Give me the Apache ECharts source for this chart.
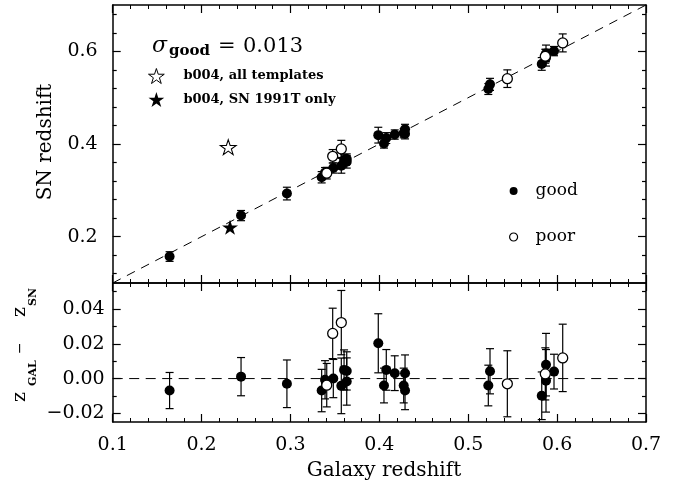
<!DOCTYPE html>
<html><head><meta charset="utf-8">
<script src="https://cdn.jsdelivr.net/npm/echarts@6/dist/echarts.min.js"></script>
<style>html,body{margin:0;padding:0;background:#fff}#c{width:686px;height:485px}</style>
</head><body><div id="c"></div>
<script>
// ---- data ----
const goodGalaxyZ = [0.1640, 0.2444, 0.2960, 0.3351, 0.3389, 0.3482, 0.3572, 0.3603, 0.3633, 0.3633, 0.3988, 0.4052, 0.4078, 0.4173, 0.4289, 0.4274, 0.4289, 0.5226, 0.5245, 0.5827, 0.5875, 0.5875, 0.5965];
const goodSnZ     = [0.1571, 0.2455, 0.2930, 0.3282, 0.3382, 0.3482, 0.3530, 0.3653, 0.3677, 0.3616, 0.4191, 0.4012, 0.4128, 0.4204, 0.4320, 0.4234, 0.4220, 0.5186, 0.5287, 0.5728, 0.5955, 0.5862, 0.6005];
const goodErr     = [0.0104, 0.0110, 0.0137, 0.0122, 0.0110, 0.0110, 0.0160, 0.0115, 0.0110, 0.0136, 0.0170, 0.0100, 0.0117, 0.0100, 0.0105, 0.0100, 0.0110, 0.0117, 0.0130, 0.0137, 0.0180, 0.0180, 0.0100];
const poorGalaxyZ = [0.3408, 0.3475, 0.3572, 0.5440, 0.5867, 0.6063];
const poorSnZ     = [0.3370, 0.3735, 0.3894, 0.5410, 0.5894, 0.6182];
const poorErr     = [0.0125, 0.0145, 0.0185, 0.0190, 0.0150, 0.0194];
const starAllGalaxyZ = [0.230];
const starAllSnZ     = [0.393];
const starT91GalaxyZ = [0.232];
const starT91SnZ     = [0.2203];
const identityLine = [0.1, 0.7];
const zeroLineX    = [0.1, 0.7];
const topMajorTicks = [0.2, 0.4, 0.6];
const topMinorTicks = [0.12, 0.16, 0.24, 0.28, 0.32, 0.36, 0.44, 0.48, 0.52, 0.56, 0.64, 0.68];
const botMajorTicks = [-0.02, 0, 0.02, 0.04];
const botMinorTicks = [-0.01, 0.01, 0.03, 0.05];
const sigmaValue = '0.013';

// ---- styling ----
const FONT = '"DejaVu Serif", serif';
const STAR = 'path://M50 0 L61.23 34.55 L97.55 34.55 L68.17 55.9 L79.39 90.45 L50 69.1 L20.61 90.45 L31.83 55.9 L2.45 34.55 L38.77 34.55 Z';
const BLACK = '#000';
const lineSt = {color: BLACK, width: 1.5};

function xAx(gridIndex, position, showLabel) {
  return {
    type: 'value', gridIndex, position, min: 0.1, max: 0.7, interval: 0.1,
    axisLine: {show: true, onZero: false, lineStyle: lineSt},
    axisTick: {show: true, inside: true, length: 8, lineStyle: {color: BLACK, width: 1.2}},
    minorTick: {show: true, splitNumber: 5, length: 4, lineStyle: {color: BLACK, width: 1}},
    splitLine: {show: false}, minorSplitLine: {show: false},
    axisLabel: {show: showLabel, margin: 14, color: BLACK, fontFamily: FONT, fontSize: 19,
      showMinLabel: true, showMaxLabel: true, formatter: v => v.toFixed(1)}
  };
}
function yAx(gridIndex, position, min, max, ticks, tickLen, label, showLine) {
  return {
    type: 'value', gridIndex, position, min, max,
    axisLine: {show: showLine, onZero: false, lineStyle: lineSt},
    axisTick: {show: true, inside: true, length: tickLen, customValues: ticks, lineStyle: {color: BLACK, width: 1.2}},
    splitLine: {show: false},
    axisLabel: label ? Object.assign({show: true, customValues: ticks, color: BLACK, fontFamily: FONT, fontSize: 19}, label) : {show: false}
  };
}
const fmtTop = v => v.toFixed(1);
const fmtBot = v => (v < -1e-9 ? '\u2212' : '') + Math.abs(v).toFixed(2);

function errData(gx, sz, er, resid) {
  return gx.map((x, i) => [x, resid ? sz[i] - x : sz[i], er[i]]);
}
function errSeries(data, xi, yi) {
  return {
    type: 'custom', xAxisIndex: xi, yAxisIndex: yi, z: 2, silent: true,
    encode: {x: 0, y: 1},
    data,
    renderItem(params, api) {
      const x = api.value(0), y = api.value(1), e = api.value(2);
      const t = api.coord([x, y + e]), b = api.coord([x, y - e]);
      const c = 4, st = {stroke: BLACK, lineWidth: 1.2};
      return {type: 'group', children: [
        {type: 'line', shape: {x1: t[0], y1: t[1], x2: b[0], y2: b[1]}, style: st},
        {type: 'line', shape: {x1: t[0] - c, y1: t[1], x2: t[0] + c, y2: t[1]}, style: st},
        {type: 'line', shape: {x1: b[0] - c, y1: b[1], x2: b[0] + c, y2: b[1]}, style: st}
      ]};
    }
  };
}
const goodStyle = {color: BLACK, opacity: 1};
const poorStyle = {color: '#fff', borderColor: BLACK, borderWidth: 1.3, opacity: 1};
const openStarStyle = {color: '#fff', borderColor: BLACK, borderWidth: 1, opacity: 1};
const fullStarStyle = {color: BLACK, borderWidth: 0, opacity: 1};
const MS = 10;

const option = {
  animation: false,
  backgroundColor: '#fff',
  grid: [
    {left: 112.7, right: 40, top: 5, height: 278, show: false, outerBoundsMode: 'none'},
    {left: 112.7, right: 40, top: 283, height: 139, show: false, outerBoundsMode: 'none'}
  ],
  xAxis: [xAx(0, 'bottom', false), xAx(0, 'top', false), xAx(1, 'bottom', true), xAx(1, 'top', false)],
  yAxis: [
    yAx(0, 'left', 0.1, 0.7, topMajorTicks, 8, {margin: 15, formatter: fmtTop}, true),
    yAx(0, 'left', 0.1, 0.7, topMinorTicks, 4, null, false),
    yAx(0, 'right', 0.1, 0.7, topMajorTicks, 8, null, true),
    yAx(0, 'right', 0.1, 0.7, topMinorTicks, 4, null, false),
    yAx(1, 'left', -0.025, 0.055, botMajorTicks, 8, {margin: 8, formatter: fmtBot}, true),
    yAx(1, 'left', -0.025, 0.055, botMinorTicks, 4, null, false),
    yAx(1, 'right', -0.025, 0.055, botMajorTicks, 8, null, true),
    yAx(1, 'right', -0.025, 0.055, botMinorTicks, 4, null, false)
  ],
  legend: [
    {left: 148, top: 68, padding: 0, orient: 'vertical', itemGap: 8, itemWidth: 16, itemHeight: 15, selectedMode: false,
      data: [{name: 'b004, all templates', icon: STAR, itemStyle: openStarStyle},
             {name: 'b004, SN 1991T only', icon: STAR, itemStyle: fullStarStyle}],
      textStyle: {fontFamily: FONT, fontSize: 13, fontWeight: 'bold', color: BLACK, padding: [0, 0, 0, 14]}},
    {left: 509, top: 181, padding: 0, orient: 'vertical', itemGap: 26, itemWidth: 8, itemHeight: 8, selectedMode: false,
      data: [{name: 'good', icon: 'circle', itemStyle: goodStyle}, {name: 'poor', icon: 'circle', itemStyle: {color: '#fff', borderColor: BLACK, borderWidth: 1.2}}],
      textStyle: {fontFamily: FONT, fontSize: 17, color: BLACK, lineHeight: 20, padding: [0, 0, 0, 13]}}
  ],
  graphic: [
    {type: 'text', x: 46, y: 142, rotation: Math.PI / 2,
      style: {text: 'SN redshift', font: '20px ' + FONT, fill: BLACK, textAlign: 'center', textVerticalAlign: 'middle'}},
    {type: 'group', x: 25, y: 402, rotation: Math.PI / 2, children: [
      {type: 'text', x: 0, y: -5.4, style: {text: 'z', font: '19px ' + FONT, fill: BLACK, textAlign: 'left', textVerticalAlign: 'middle'}},
      {type: 'text', x: 16, y: 8.2, style: {text: 'GAL', font: 'bold 11px ' + FONT, fill: BLACK, textAlign: 'left', textVerticalAlign: 'middle'}},
      {type: 'text', x: 48, y: -5, style: {text: '\u2212', font: '14px ' + FONT, fill: BLACK, textAlign: 'left', textVerticalAlign: 'middle'}},
      {type: 'text', x: 85, y: -5.4, style: {text: 'z', font: '19px ' + FONT, fill: BLACK, textAlign: 'left', textVerticalAlign: 'middle'}},
      {type: 'text', x: 96, y: 8.2, style: {text: 'SN', font: 'bold 11px ' + FONT, fill: BLACK, textAlign: 'left', textVerticalAlign: 'middle'}}
    ]},
    {type: 'text', x: 384, y: 471, style: {text: 'Galaxy redshift', font: '20px ' + FONT, fill: BLACK, textAlign: 'center', textVerticalAlign: 'middle'}},
    {type: 'text', x: 152, y: 46.5, style: {text: '\u03c3', font: 'italic 22px ' + FONT, fill: BLACK, textAlign: 'left', textVerticalAlign: 'middle'}},
    {type: 'text', x: 169, y: 51, style: {text: 'good', font: 'bold 15px ' + FONT, fill: BLACK, textAlign: 'left', textVerticalAlign: 'middle'}},
    {type: 'text', x: 218, y: 46.5, style: {text: '=', font: '21px ' + FONT, fill: BLACK, textAlign: 'left', textVerticalAlign: 'middle'}},
    {type: 'text', x: 243, y: 46.5, style: {text: sigmaValue, font: '21px ' + FONT, fill: BLACK, textAlign: 'left', textVerticalAlign: 'middle'}}
  ],
  series: [
    {type: 'line', xAxisIndex: 0, yAxisIndex: 0, symbol: 'none', silent: true, z: 1,
      data: [[identityLine[0], identityLine[0]], [identityLine[1], identityLine[1]]],
      lineStyle: {color: BLACK, width: 1, type: [9, 7]}},
    {type: 'line', xAxisIndex: 2, yAxisIndex: 4, symbol: 'none', silent: true, z: 1,
      data: [[zeroLineX[0], 0], [zeroLineX[1], 0]],
      lineStyle: {color: BLACK, width: 1, type: [10, 6.5]}},
    errSeries(errData(goodGalaxyZ, goodSnZ, goodErr, false), 0, 0),
    errSeries(errData(poorGalaxyZ, poorSnZ, poorErr, false), 0, 0),
    errSeries(errData(goodGalaxyZ, goodSnZ, goodErr, true), 2, 4),
    errSeries(errData(poorGalaxyZ, poorSnZ, poorErr, true), 2, 4),
    {name: 'good', type: 'scatter', xAxisIndex: 0, yAxisIndex: 0, z: 3, symbol: 'circle', symbolSize: MS, itemStyle: goodStyle,
      data: goodGalaxyZ.map((x, i) => [x, goodSnZ[i]])},
    {name: 'poor', type: 'scatter', xAxisIndex: 0, yAxisIndex: 0, z: 3, symbol: 'circle', symbolSize: MS, itemStyle: poorStyle,
      data: poorGalaxyZ.map((x, i) => [x, poorSnZ[i]])},
    {name: 'good', type: 'scatter', xAxisIndex: 2, yAxisIndex: 4, z: 3, symbol: 'circle', symbolSize: MS, itemStyle: goodStyle,
      data: goodGalaxyZ.map((x, i) => [x, goodSnZ[i] - x])},
    {name: 'poor', type: 'scatter', xAxisIndex: 2, yAxisIndex: 4, z: 3, symbol: 'circle', symbolSize: MS, itemStyle: poorStyle,
      data: poorGalaxyZ.map((x, i) => [x, poorSnZ[i] - x])},
    {name: 'b004, all templates', type: 'scatter', xAxisIndex: 0, yAxisIndex: 0, z: 3, symbol: STAR, symbolSize: [16, 15],
      itemStyle: openStarStyle,
      data: starAllGalaxyZ.map((x, i) => [x, starAllSnZ[i]])},
    {name: 'b004, SN 1991T only', type: 'scatter', xAxisIndex: 0, yAxisIndex: 0, z: 3, symbol: STAR, symbolSize: [16, 15],
      itemStyle: fullStarStyle,
      data: starT91GalaxyZ.map((x, i) => [x, starT91SnZ[i]])}
  ]
};
const chart = echarts.init(document.getElementById('c'), null, {renderer: 'canvas'});
chart.setOption(option);
</script>
</body></html>
